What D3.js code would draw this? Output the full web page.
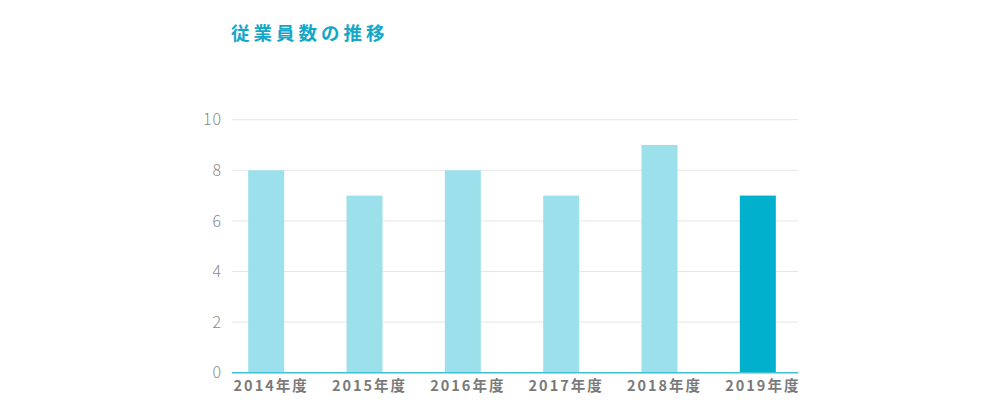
<!DOCTYPE html>
<html>
<head>
<meta charset="utf-8">
<script src="https://cdn.jsdelivr.net/npm/d3@7"></script>
<style>
  html, body { margin: 0; padding: 0; background: #fff; }
  svg { display: block; font-family: "Noto Sans CJK JP", "Noto Sans", sans-serif; }
</style>
</head>
<body>
<div class="chart"></div>
<script>
var years = ["2014年度", "2015年度", "2016年度", "2017年度", "2018年度", "2019年度"];
var employees = [8, 7, 8, 7, 9, 7];
var yTicks = [0, 2, 4, 6, 8, 10];
var title = "従業員数の推移";

var w = 1000;
var h = 420;

var svg = d3.select(".chart")
    .append("svg")
    .attr("width", w)
    .attr("height", h);

// titulo
svg.append("text")
    .text(title)
    .attr("x", 231)
    .attr("y", 39.5)
    .attr("font-size", "18.5px")
    .attr("font-weight", "bold")
    .attr("letter-spacing", "4px")
    .attr("fill", "#14a7c7");

var x = d3.scaleBand()
    .domain(years)
    .range([217, 807])
    .paddingInner(0.634)
    .paddingOuter(0.317);

var y = d3.scaleLinear()
    .domain([0, 10])
    .range([372.7, 119.7]);

// lineas de fondo
svg.selectAll("line.grid")
    .data(yTicks.filter(function(d) { return d > 0; }))
    .enter()
    .append("line")
    .attr("class", "grid")
    .attr("x1", 232).attr("x2", 798)
    .attr("y1", function(d) { return y(d); })
    .attr("y2", function(d) { return y(d); })
    .attr("stroke", "#e6e6e6")
    .attr("stroke-width", 1);

svg.selectAll("text.ytick")
    .data(yTicks)
    .enter()
    .append("text")
    .attr("class", "ytick")
    .text(function(d) { return d; })
    .attr("x", 222)
    .attr("y", function(d) { return y(d); })
    .attr("dy", "0.35em")
    .attr("text-anchor", "end")
    .attr("font-size", "16px")
    .attr("font-weight", "300")
    .attr("letter-spacing", "1px")
    .attr("fill", "#8a8a8a");

svg.selectAll("rect")
    .data(employees)
    .enter()
    .append("rect")
    .attr("x", function(d, i) { return x(years[i]); })
    .attr("y", function(d) { return y(d); })
    .attr("width", x.bandwidth())
    .attr("height", function(d) { return y(0) - y(d); })
    .attr("fill", function(d, i) {
        return i === years.length - 1 ? "#00b0cc" : "#9ce0eb";
    });

// linea base
svg.append("line")
    .attr("x1", 232).attr("x2", 798)
    .attr("y1", y(0)).attr("y2", y(0))
    .attr("stroke", "#40bfd5")
    .attr("stroke-width", 1.5);

svg.selectAll("text.xtick")
    .data(years)
    .enter()
    .append("text")
    .attr("class", "xtick")
    .text(function(d) { return d; })
    .attr("x", function(d) { return x(d) + x.bandwidth() / 2 + 5; })
    .attr("y", 391)
    .attr("text-anchor", "middle")
    .attr("font-size", "14.5px")
    .attr("font-weight", "bold")
    .attr("letter-spacing", "2px")
    .attr("fill", "#7a7a7a");
</script>
</body>
</html>
